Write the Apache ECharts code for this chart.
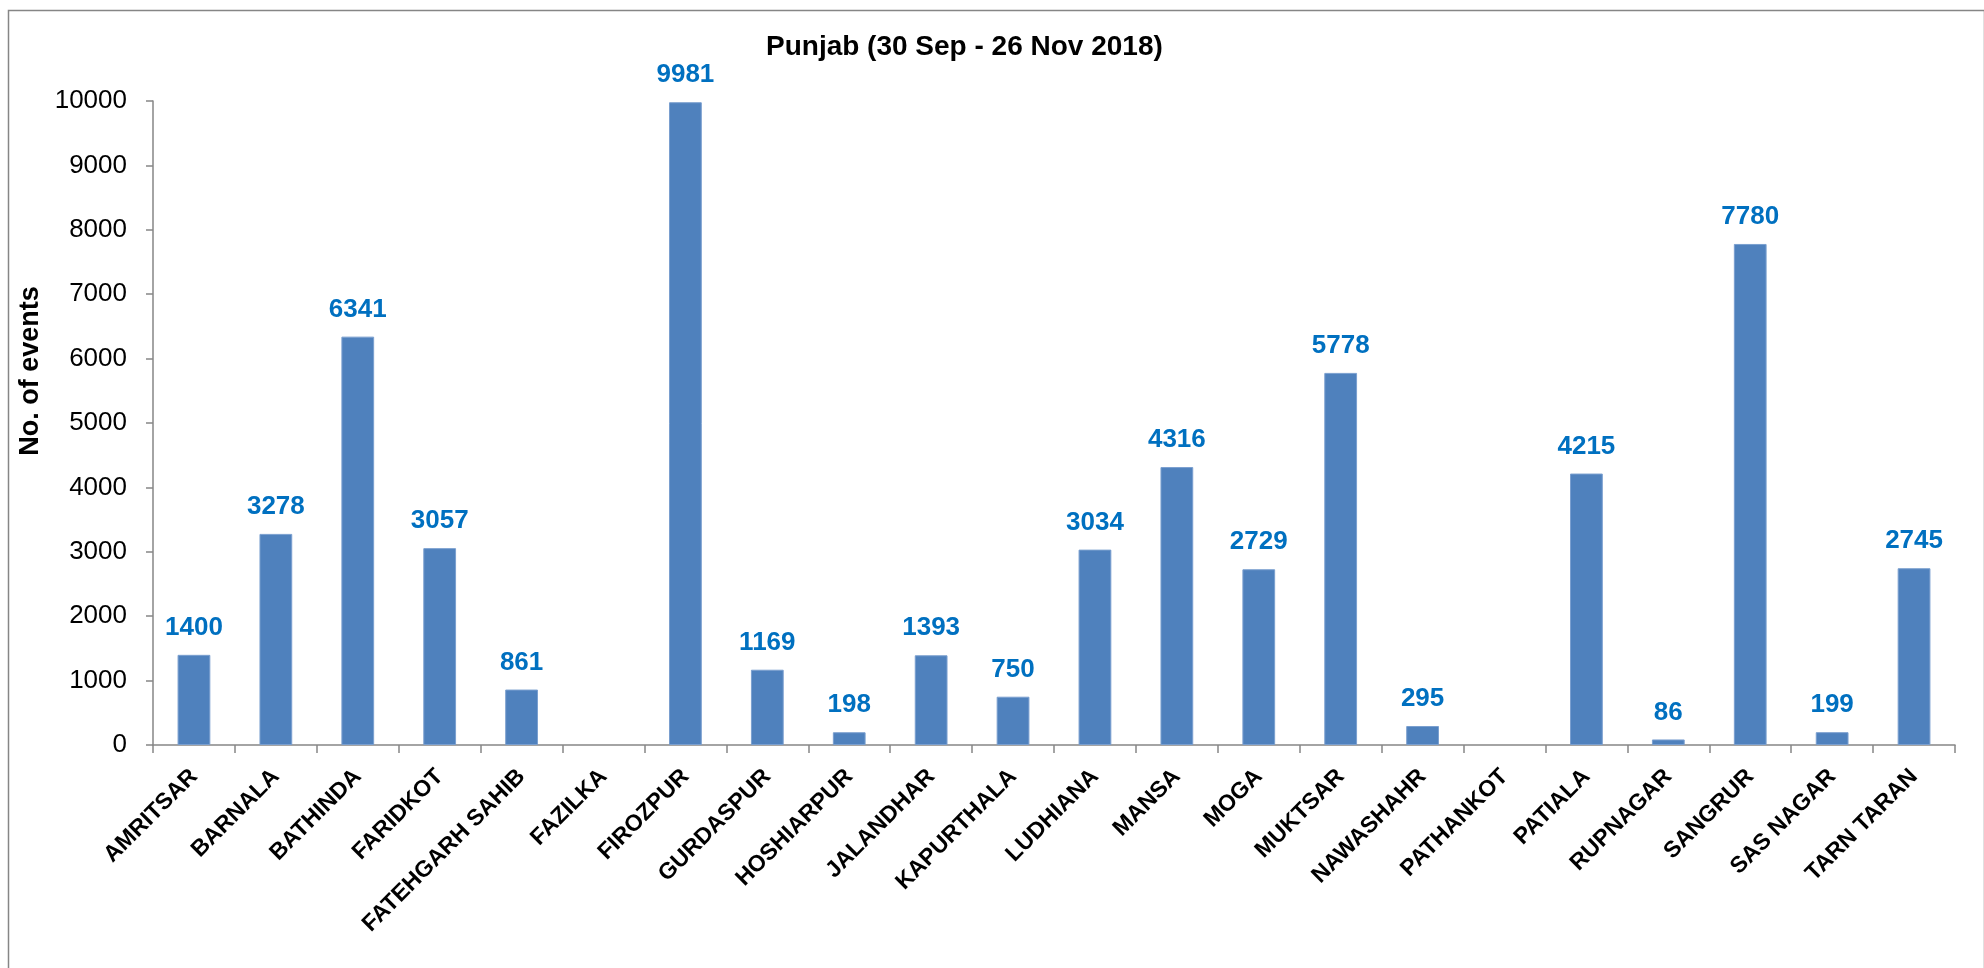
<!DOCTYPE html>
<html>
<head>
<meta charset="utf-8">
<script src="https://cdn.jsdelivr.net/npm/echarts@6/dist/echarts.min.js"></script>
<style>
html,body{margin:0;padding:0;background:#fff;}
#chart{width:1984px;height:968px;}
</style>
</head>
<body>
<div id="chart"></div>
<script>
const titleText = 'Punjab (30 Sep - 26 Nov 2018)';
const yAxisName = 'No. of events';
const categories = ['AMRITSAR','BARNALA','BATHINDA','FARIDKOT','FATEHGARH SAHIB','FAZILKA','FIROZPUR','GURDASPUR','HOSHIARPUR','JALANDHAR','KAPURTHALA','LUDHIANA','MANSA','MOGA','MUKTSAR','NAWASHAHR','PATHANKOT','PATIALA','RUPNAGAR','SANGRUR','SAS NAGAR','TARN TARAN'];
const events = [1400,3278,6341,3057,861,null,9981,1169,198,1393,750,3034,4316,2729,5778,295,null,4215,86,7780,199,2745];
const yMin = 0, yMax = 10000, yStep = 1000;

const font = "'Liberation Sans', Arial, sans-serif";
const axisGray = '#868686';
const chart = echarts.init(document.getElementById('chart'));
chart.setOption({
  animation: false,
  backgroundColor: '#fff',
  textStyle: { fontFamily: font },
  graphic: [{
    type: 'rect', left: 6, top: 8,
    shape: { width: 1976, height: 1000 },
    style: { fill: 'none', stroke: axisGray, lineWidth: 1.5 },
    z: -1
  }],
  title: {
    text: titleText, left: 761, top: 28,
    textStyle: { fontFamily: font, fontSize: 28, fontWeight: 'bold', color: '#000' }
  },
  grid: { left: 153, right: 29, top: 101, bottom: 223, containLabel: false },
  xAxis: {
    type: 'category', data: categories,
    axisLine: { lineStyle: { color: axisGray, width: 1.5 } },
    axisTick: { show: true, length: 8, alignWithLabel: false, interval: 0, lineStyle: { color: axisGray, width: 1.5 } },
    axisLabel: { interval: 0, rotate: 45, margin: 28, fontFamily: font, fontSize: 23, fontWeight: 'bold', color: '#000' }
  },
  yAxis: {
    type: 'value', min: yMin, max: yMax, interval: yStep,
    name: yAxisName, nameLocation: 'middle', nameGap: 82, nameRotate: 90,
    nameTextStyle: { fontFamily: font, fontSize: 27, fontWeight: 'bold', color: '#000', padding: [0, 0, 0, 104] },
    splitLine: { show: false },
    axisLine: { show: true, lineStyle: { color: axisGray, width: 1.5 } },
    axisTick: { show: true, length: 7, inside: false, lineStyle: { color: axisGray, width: 1.5 } },
    axisLabel: { margin: 26, fontFamily: font, fontSize: 26, color: '#000', formatter: v => String(v) }
  },
  series: [{
    type: 'bar', data: events,
    barCategoryGap: '60%',
    itemStyle: { color: '#4F81BD', borderColor: '#7A9FCF', borderWidth: 1 },
    label: { show: true, position: 'top', distance: 14, fontFamily: font, fontSize: 26, fontWeight: 'bold', color: '#0070C0' }
  }]
});
</script>
</body>
</html>
